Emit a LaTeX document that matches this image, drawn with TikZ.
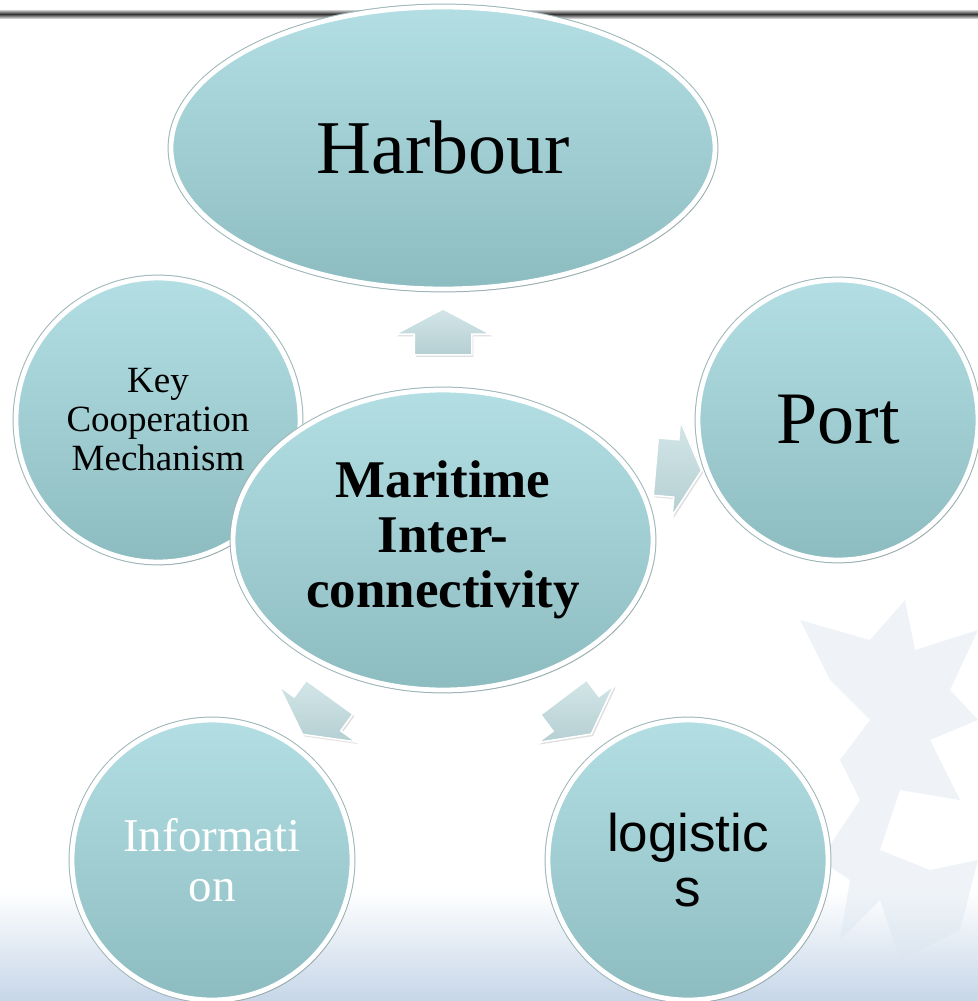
\documentclass[tikz,border=0pt]{standalone}
\usepackage{fontspec}
\setmainfont{Liberation Serif}
\newfontfamily\arialfont{Liberation Sans}
\usetikzlibrary{shapes.geometric,shapes.arrows,shadows,calc}

\definecolor{bubbletop}{HTML}{B3DFE4}
\definecolor{bubblebot}{HTML}{8DBCC0}
\definecolor{rimgray}{HTML}{9DB5B8}
\definecolor{arrowtop}{HTML}{D3E6E8}
\definecolor{arrowbot}{HTML}{B5CFD2}
\definecolor{floorblue}{HTML}{C6D6E8}
\definecolor{flakeblue}{HTML}{DCE6EF}

\begin{document}
\begin{tikzpicture}[x=0.5pt,y=-0.5pt,
  bubble/.style={top color=bubbletop,bottom color=bubblebot,draw=white,line width=2.4pt,
    preaction={draw=rimgray,line width=3.4pt},inner sep=0pt,align=center,
    drop shadow={opacity=0.2,shadow xshift=1pt,shadow yshift=-1.5pt}},
  oval/.style={bubble,ellipse,minimum width=#1},
  ball/.style={bubble,circle,minimum size=140pt},
  blockarr/.style={single arrow,single arrow head extend=9.5pt,single arrow head indent=0pt,
    single arrow tip angle=124,minimum height=23pt,inner xsep=0pt,inner ysep=14pt,
    top color=arrowtop,bottom color=arrowbot,draw=white,line width=0.8pt,
    drop shadow={opacity=0.25,shadow xshift=0.8pt,shadow yshift=-1pt}}]
% page and backdrop
\useasboundingbox (0,0) rectangle (978,1001);
\fill[white] (0,0) rectangle (978,1001);
\shade[top color=white,bottom color=floorblue] (0,890) rectangle (978,1001);
\fill[flakeblue,opacity=0.45] (800,620) -- (870,640) -- (905,600) -- (915,650) -- (978,630) -- (950,690)
  -- (978,720) -- (930,740) -- (960,800) -- (900,790) -- (880,850) -- (930,870) -- (978,860)
  -- (960,930) -- (900,960) -- (880,900) -- (840,940) -- (850,880) -- (820,860) -- (860,800)
  -- (840,760) -- (870,720) -- (830,680) -- cycle;
\shade[top color=gray!40,bottom color=gray!40,middle color=black!80] (0,10) rectangle (978,18);

% bubbles
\node[oval=272pt,minimum height=141pt,font=\fontsize{38}{40}\selectfont] (harb) at (443,148) {Harbour};
\node[ball,minimum size=142pt,font=\fontsize{18.5}{19.5}\selectfont] (coop) at (158,420) {Key\\Cooperation\\Mechanism};
\node[oval=210pt,minimum height=150pt,font=\fontsize{26.5}{27.5}\selectfont\bfseries] (mar) at (443,540) {Maritime\\Inter-\\connectivity};
\node[ball,font=\fontsize{37}{40}\selectfont] (port) at (838,420) {Port};
\node[ball,text=white,font=\fontsize{23.5}{25}\selectfont] (info) at (212,860) {Informati\\on};
\node[ball,font=\arialfont\fontsize{26.5}{27.5}\selectfont] (logi) at (688,860) {logistic\\s};

% arrows out of the centre
\node[blockarr,rotate=90] (toHarb) at ($(mar.north)!0.5!(harb.south)$) {};
\node[blockarr,rotate=-5] (toPort) at (671,468) {};
\node[blockarr,rotate=-126] (toInfo) at ($(mar)!0.53!(info)$) {};
\node[blockarr,rotate=-53] (toLogi) at ($(mar)!0.53!(logi)$) {};
\end{tikzpicture}
\end{document}
